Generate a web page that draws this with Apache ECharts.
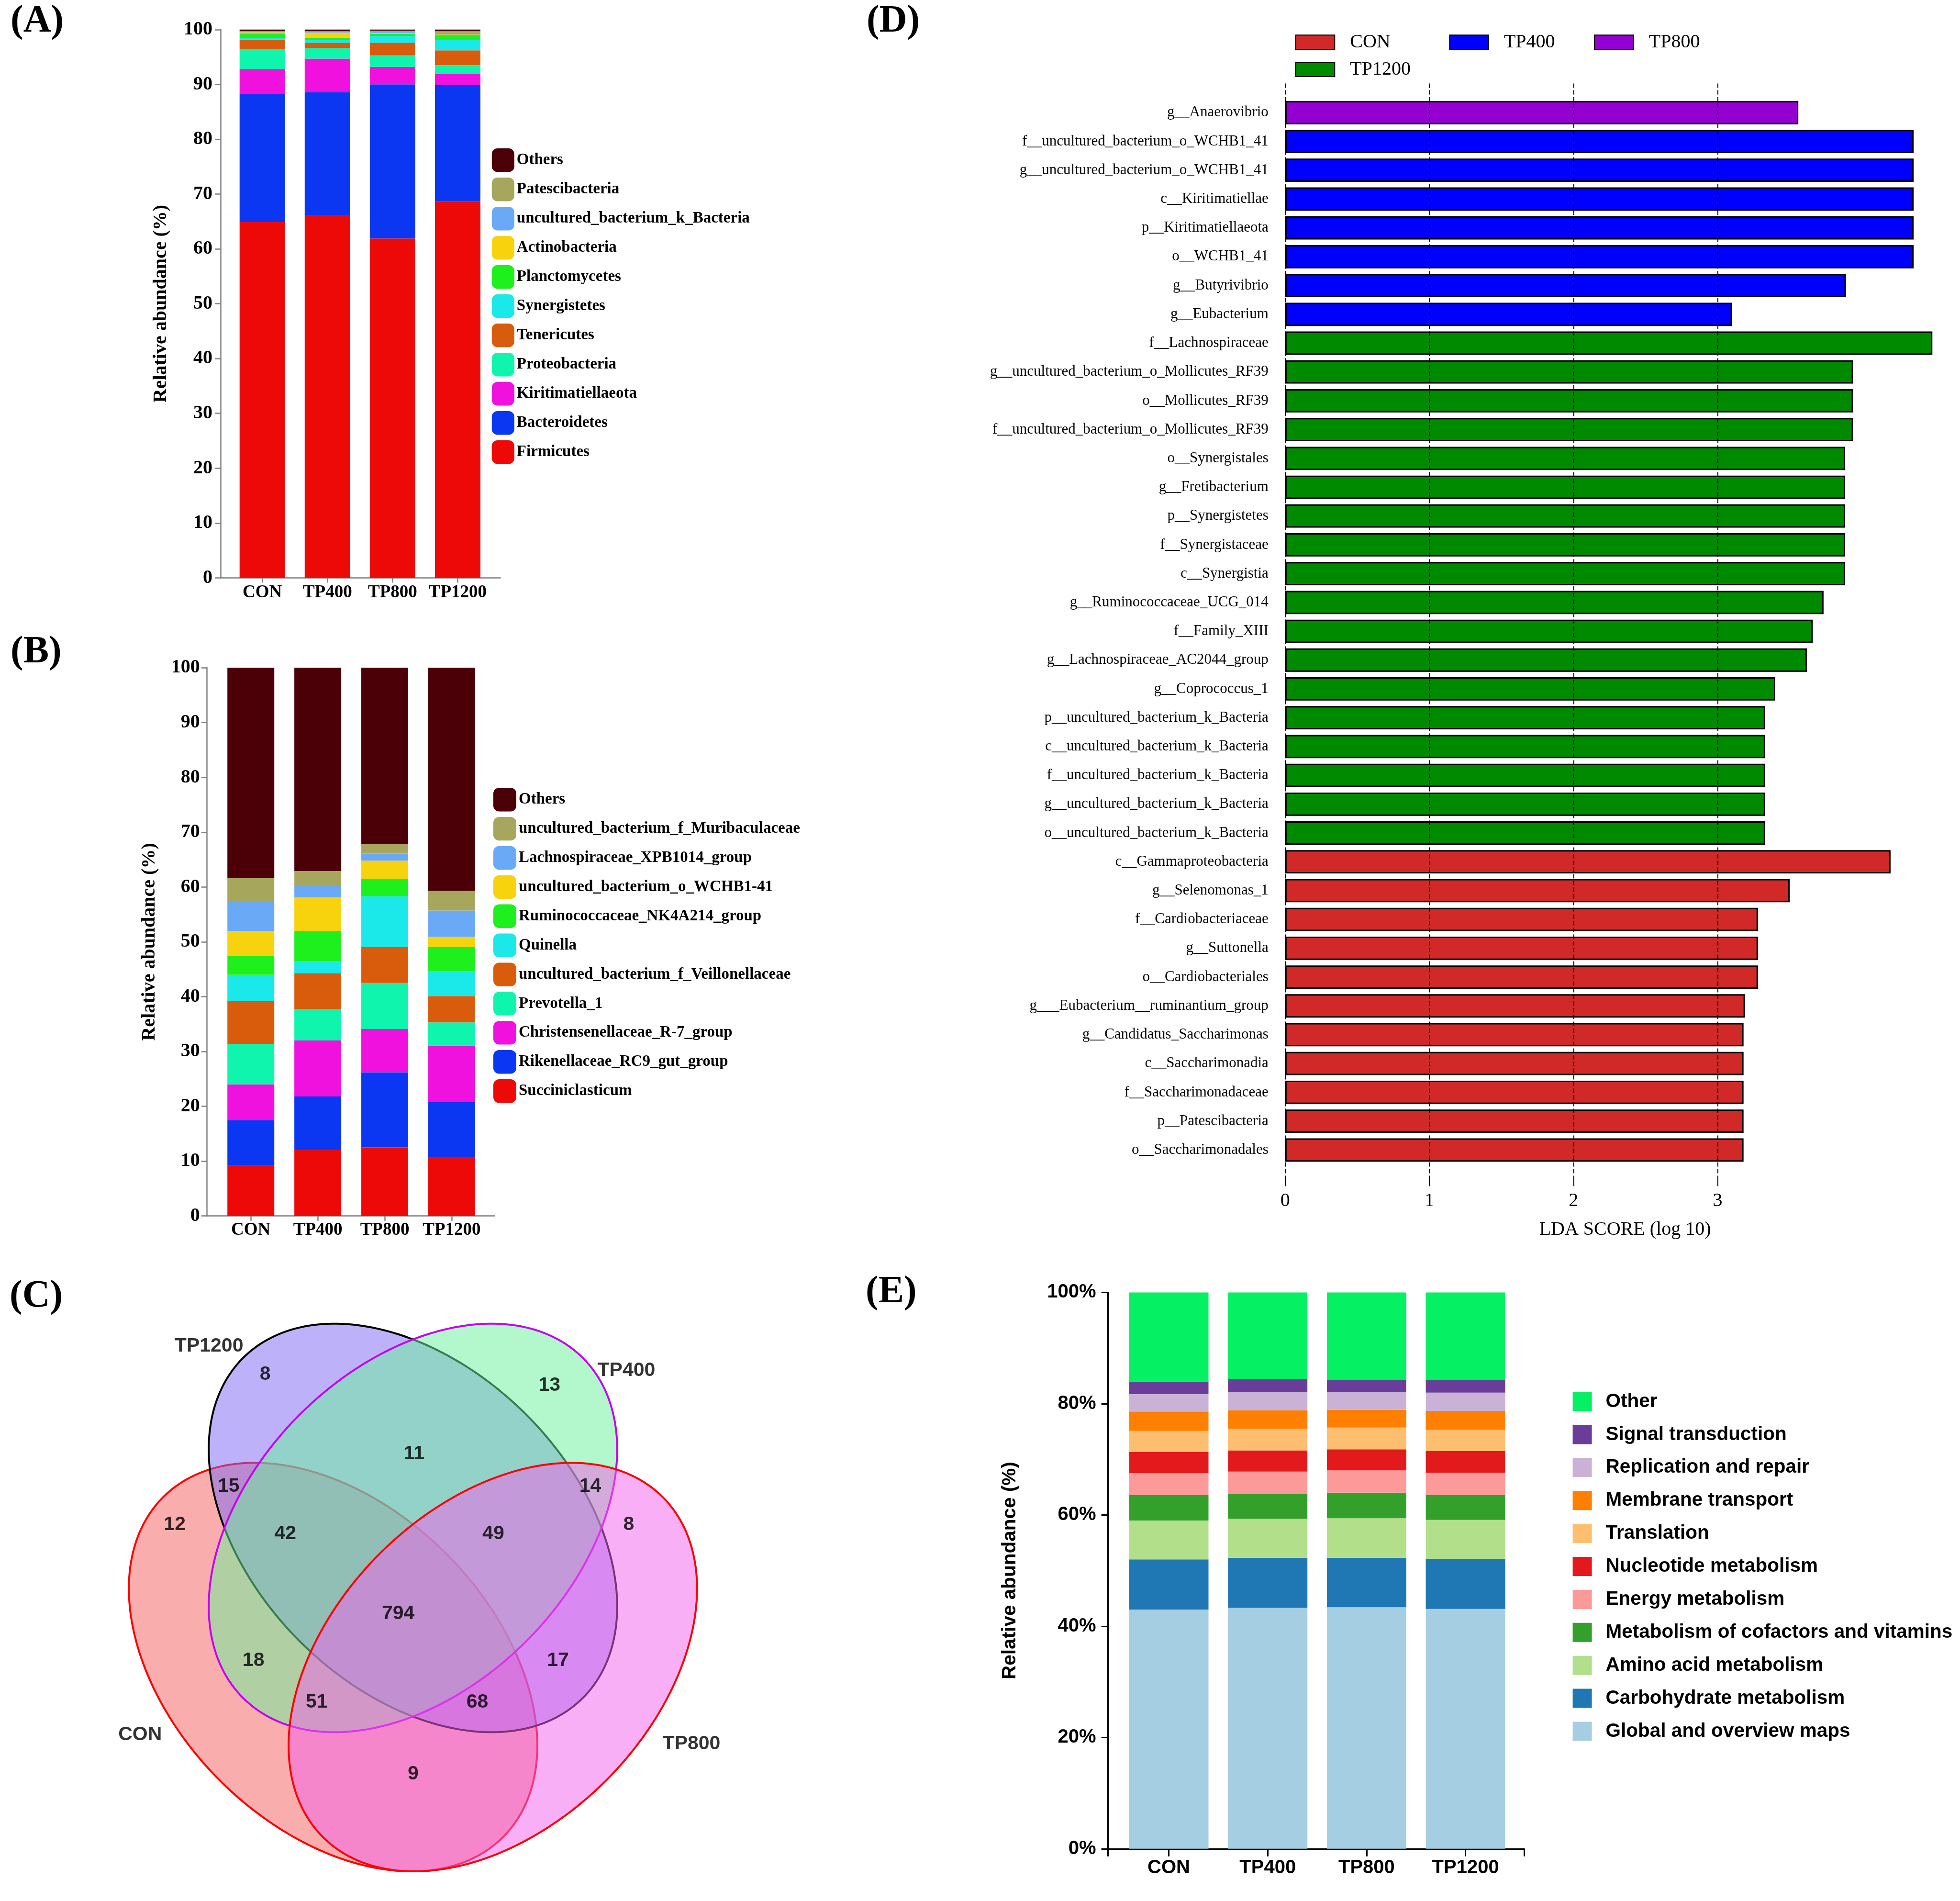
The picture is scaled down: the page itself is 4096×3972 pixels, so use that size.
<!DOCTYPE html>
<html><head><meta charset="utf-8">
<script src="https://cdn.jsdelivr.net/npm/echarts@6/dist/echarts.min.js"></script>
<style>html,body{margin:0;padding:0;background:#fff}#c{width:4096px;height:3972px}</style>
</head><body><div id="c"></div>
<script>
// ---------- shared ----------
const groups = ['CON', 'TP400', 'TP800', 'TP1200'];
const groupPos = [0, 1, 2, 3];

// ---------- Panel A : phylum level ----------
const phylumNames = ['Firmicutes','Bacteroidetes','Kiritimatiellaeota','Proteobacteria','Tenericutes','Synergistetes','Planctomycetes','Actinobacteria','uncultured_bacterium_k_Bacteria','Patescibacteria','Others'];
const phylumValues = [
  [64.9, 66.2, 61.9, 68.6],
  [23.3, 22.4, 28.1, 21.3],
  [4.6, 6.1, 3.2, 2.0],
  [3.6, 1.9, 2.1, 1.6],
  [1.8, 1.0, 2.3, 2.7],
  [0.3, 0.5, 1.2, 1.9],
  [0.8, 0.4, 0.4, 0.9],
  [0.2, 0.9, 0.2, 0.1],
  [0.1, 0.1, 0.2, 0.3],
  [0.1, 0.2, 0.2, 0.3],
  [0.3, 0.3, 0.2, 0.3]
];

// ---------- Panel B : genus level ----------
const genusNames = ['Succiniclasticum','Rikenellaceae_RC9_gut_group','Christensenellaceae_R-7_group','Prevotella_1','uncultured_bacterium_f_Veillonellaceae','Quinella','Ruminococcaceae_NK4A214_group','uncultured_bacterium_o_WCHB1-41','Lachnospiraceae_XPB1014_group','uncultured_bacterium_f_Muribaculaceae','Others'];
const genusValues = [
  [9.3, 12.1, 12.5, 10.7],
  [8.2, 9.7, 13.7, 10.1],
  [6.5, 10.2, 7.9, 10.3],
  [7.4, 5.7, 8.4, 4.2],
  [7.8, 6.6, 6.6, 4.8],
  [4.8, 2.2, 9.2, 4.5],
  [3.4, 5.5, 3.2, 4.5],
  [4.6, 6.1, 3.3, 1.8],
  [5.5, 2.2, 1.3, 4.8],
  [4.1, 2.6, 1.7, 3.6],
  [38.4, 37.1, 32.2, 40.7]
];
const taxaColors = ['#EE0909','#0B36F2','#F011DE','#10F5AE','#D95B0C','#1BE8E8','#1EF01E','#F7D30E','#6AA9F6','#A6A65C','#4A0006'];

// ---------- Panel C : Venn ----------
const vennSets = ['CON', 'TP1200', 'TP400', 'TP800'];        // drawing order
const vennCx = [711, 881.5, 881.5, 1052];
const vennCy = [3558, 3261, 3261, 3558];
const vennAngle = [45, 45, -45, -45];
const vennA = 513, vennB = 342;
const vennCounts = [8, 13, 11, 15, 14, 12, 8, 42, 49, 794, 18, 17, 51, 68, 9];
const vennCountX = [566, 1173, 884, 488, 1260, 373, 1342, 609, 1053, 850, 541, 1191, 676, 1019, 882];
const vennCountY = [2933, 2957, 3103, 3172, 3172, 3254, 3254, 3273, 3273, 3444, 3544, 3544, 3633, 3633, 3786];
const vennLabelNames = ['TP1200', 'TP400', 'CON', 'TP800'];
const vennLabelX = [446, 1337, 299, 1476];
const vennLabelY = [2873, 2925, 3702, 3722];

// ---------- Panel D : LEfSe ----------
const ldaNames = [
  'g__Anaerovibrio','f__uncultured_bacterium_o_WCHB1_41','g__uncultured_bacterium_o_WCHB1_41','c__Kiritimatiellae','p__Kiritimatiellaeota','o__WCHB1_41','g__Butyrivibrio','g__Eubacterium',
  'f__Lachnospiraceae','g__uncultured_bacterium_o_Mollicutes_RF39','o__Mollicutes_RF39','f__uncultured_bacterium_o_Mollicutes_RF39','o__Synergistales','g__Fretibacterium','p__Synergistetes','f__Synergistaceae','c__Synergistia','g__Ruminococcaceae_UCG_014','f__Family_XIII','g__Lachnospiraceae_AC2044_group','g__Coprococcus_1','p__uncultured_bacterium_k_Bacteria','c__uncultured_bacterium_k_Bacteria','f__uncultured_bacterium_k_Bacteria','g__uncultured_bacterium_k_Bacteria','o__uncultured_bacterium_k_Bacteria',
  'c__Gammaproteobacteria','g__Selenomonas_1','f__Cardiobacteriaceae','g__Suttonella','o__Cardiobacteriales','g___Eubacterium__ruminantium_group','g__Candidatus_Saccharimonas','c__Saccharimonadia','f__Saccharimonadaceae','p__Patescibacteria','o__Saccharimonadales'
];
const ldaScores = [
  3.56, 4.36, 4.36, 4.36, 4.36, 4.36, 3.89, 3.10,
  4.49, 3.94, 3.94, 3.94, 3.885, 3.885, 3.885, 3.885, 3.885, 3.735, 3.66, 3.62, 3.40, 3.33, 3.33, 3.33, 3.33, 3.33,
  4.20, 3.50, 3.28, 3.28, 3.28, 3.19, 3.18, 3.18, 3.18, 3.18, 3.18
];
const ldaClass = [
  'TP800','TP400','TP400','TP400','TP400','TP400','TP400','TP400',
  'TP1200','TP1200','TP1200','TP1200','TP1200','TP1200','TP1200','TP1200','TP1200','TP1200','TP1200','TP1200','TP1200','TP1200','TP1200','TP1200','TP1200','TP1200',
  'CON','CON','CON','CON','CON','CON','CON','CON','CON','CON','CON'
];
const ldaTicks = [0, 1, 2, 3];
const ldaColors = {CON: '#D12828', TP400: '#0000FF', TP800: '#9500D2', TP1200: '#008A00'};

// ---------- Panel E : KEGG functions ----------
const keggNames = ['Global and overview maps','Carbohydrate metabolism','Amino acid metabolism','Metabolism of cofactors and vitamins','Energy metabolism','Nucleotide metabolism','Translation','Membrane transport','Replication and repair','Signal transduction','Other'];
const keggValues = [
  [43.0, 43.3, 43.4, 43.1],
  [9.0, 9.0, 8.9, 9.0],
  [7.0, 7.0, 7.1, 7.0],
  [4.6, 4.5, 4.6, 4.5],
  [3.9, 4.0, 4.0, 4.0],
  [3.8, 3.8, 3.8, 3.9],
  [3.8, 3.9, 3.9, 3.8],
  [3.5, 3.3, 3.2, 3.4],
  [3.1, 3.3, 3.2, 3.3],
  [2.3, 2.3, 2.1, 2.2],
  [16.0, 15.6, 15.8, 15.8]
];
const keggColors = ['#A6CEE3','#1F78B4','#B2DF8A','#33A02C','#FB9A99','#E31A1C','#FDBF6F','#FF7F00','#CAB2D6','#6A3D9A','#05F063'];

// ---------- styling ----------
const SERIF = '"Liberation Serif", "Times New Roman", serif';
const SANS = '"Liberation Sans", Arial, sans-serif';
const GRAY = '#808080';

const chart = echarts.init(document.getElementById('c'), null, {renderer: 'canvas', width: 4096, height: 3972});
const groupLabel = v => (Number.isInteger(v) && groups[v] !== undefined) ? groups[v] : '';

// group axis: value scale with the four groups at 0..3, with a little room either side
function groupAxis(gridIdx, min, max, color, lw, tickLen, font, margin, endTicks) {
  return {type: 'value', gridIndex: gridIdx, min: min, max: max,
    splitLine: {show: false},
    axisLine: {onZero: false, lineStyle: {color: color, width: lw}},
    axisTick: {show: true, length: tickLen, lineStyle: {color: color, width: lw},
               customValues: endTicks ? [min].concat(groupPos, [max]) : groupPos},
    axisLabel: {customValues: groupPos, formatter: groupLabel, fontFamily: font, fontWeight: 'bold',
                fontSize: font === SERIF ? 37 : 40, color: '#000', margin: margin,
                showMinLabel: true, showMaxLabel: true}};
}
function abundanceAxis(gridIdx, nameGap, margin) {
  return {type: 'value', gridIndex: gridIdx, min: 0, max: 100, interval: 10,
    axisLine: {show: true, onZero: false, lineStyle: {color: GRAY, width: 2.5}},
    axisTick: {show: true, length: 12, lineStyle: {color: GRAY, width: 2.5}},
    splitLine: {show: false},
    axisLabel: {fontFamily: SERIF, fontWeight: 'bold', fontSize: 40, color: '#000', margin: margin},
    name: 'Relative abundance (%)', nameLocation: 'middle', nameGap: nameGap,
    nameTextStyle: {fontFamily: SERIF, fontWeight: 'bold', fontSize: 40, color: '#000'}};
}
// stacked bar series on a value x-axis: column 0 = abundance (stacked), column 1 = group position
function stackBar(name, xi, stack, width, values, color) {
  return {type: 'bar', name: name, xAxisIndex: xi, yAxisIndex: xi, stack: stack, barWidth: width,
    dimensions: ['abundance', 'group'], encode: {x: 1, y: 0},
    data: values.map((v, j) => [v, groupPos[j]]), itemStyle: {color: color}};
}

const series = [];
phylumNames.forEach((n, i) => series.push(stackBar(n, 0, 'A', 95, phylumValues[i], taxaColors[i])));
genusNames.forEach((n, i) => series.push(stackBar(n, 1, 'B', 98, genusValues[i], taxaColors[i])));

// Venn ellipses (each filled twice: a multiply wash and a normal wash, then the outline)
const vennBase = [[245, 97, 97], [127, 105, 245], [107, 241, 157], [243, 101, 235]];
const vennStroke = ['#FF0000', '#000000', '#C800F0', '#FF0000'];
series.push({
  type: 'custom', name: 'venn', xAxisIndex: 2, yAxisIndex: 2, silent: true, z: 1,
  data: vennSets.map((s, i) => [vennCx[i], vennCy[i], vennA, vennB, vennAngle[i]]),
  renderItem: (params, api) => {
    const i = params.dataIndex;
    const cx = api.value(0), cy = api.value(1), a = api.value(2), b = api.value(3);
    const th = api.value(4) * Math.PI / 180;
    const pts = [];
    for (let k = 0; k < 240; k++) {
      const t = k / 240 * 2 * Math.PI;
      const x = cx + a * Math.cos(t) * Math.cos(th) - b * Math.sin(t) * Math.sin(th);
      const y = cy + a * Math.cos(t) * Math.sin(th) + b * Math.sin(t) * Math.cos(th);
      pts.push(api.coord([x, y]));
    }
    const c = vennBase[i];
    const rgba = 'rgba(' + c[0] + ',' + c[1] + ',' + c[2] + ',0.3)';
    return {type: 'group', children: [
      {type: 'polygon', shape: {points: pts}, style: {fill: rgba, blend: 'multiply'}},
      {type: 'polygon', shape: {points: pts}, style: {fill: rgba, stroke: vennStroke[i], lineWidth: 4}}
    ]};
  }
});
series.push({
  type: 'scatter', name: 'vennCounts', xAxisIndex: 2, yAxisIndex: 2, symbolSize: 0, silent: true, z: 5,
  data: vennCounts.map((c, i) => [vennCountX[i], vennCountY[i], c]),
  label: {show: true, position: 'inside', formatter: p => String(p.value[2]), fontFamily: SANS, fontWeight: 'bold', fontSize: 41, color: '#000'}
});
series.push({
  type: 'scatter', name: 'vennNames', xAxisIndex: 2, yAxisIndex: 2, symbolSize: 0, silent: true, z: 5,
  data: vennLabelNames.map((n, i) => ({value: [vennLabelX[i], vennLabelY[i]], name: n})),
  label: {show: true, position: 'inside', formatter: p => p.name, fontFamily: SANS, fontWeight: 'bold', fontSize: 41, color: '#000'}
});

// LEfSe bars
groups.forEach(g => series.push({
  type: 'bar', name: g, xAxisIndex: 3, yAxisIndex: 3, stack: 'D', barCategoryGap: '19%',
  data: ldaScores.map((v, i) => ldaClass[i] === g ? v : '-'),
  itemStyle: {color: ldaColors[g], borderColor: '#000', borderWidth: 3}
}));
series.push({type: 'line', name: 'ldaGridAnchor', xAxisIndex: 4, yAxisIndex: 4, data: [], silent: true});

// KEGG bars
keggNames.forEach((n, i) => series.push(stackBar(n, 5, 'E', 166, keggValues[i], keggColors[i])));

const option = {
  backgroundColor: '#ffffff',
  animation: false,
  grid: [
    {left: 461.1, top: 61.8, width: 584.5, height: 1145.6},
    {left: 432.7, top: 1395.1, width: 601.1, height: 1145.6},
    {left: 0, top: 2643.3, width: 1566.4, height: 1325.6},
    {left: 2685.8, top: 205.2, width: 1385.6, height: 2227.7},
    {left: 2685.8, top: 174.5, width: 903.7, height: 2303.8},
    {left: 2315.6, top: 2700.4, width: 870, height: 1162.4}
  ],
  xAxis: [
    groupAxis(0, -0.640, 3.655, GRAY, 2.5, 10, SERIF, 13, false),
    groupAxis(1, -0.654, 3.642, GRAY, 2.5, 10, SERIF, 11.5, false),
    {type: 'value', gridIndex: 2, min: 0, max: 1600, show: false},
    {type: 'value', gridIndex: 3, min: 0, max: 4.6,
     axisLine: {show: false}, axisTick: {show: false}, axisLabel: {show: false}, splitLine: {show: false},
     name: 'LDA SCORE (log 10)', nameLocation: 'middle', nameGap: 117,
     nameTextStyle: {fontFamily: SERIF, fontSize: 40, color: '#000', padding: [0, 0, 0, 35]}},
    {type: 'value', gridIndex: 4, min: ldaTicks[0], max: ldaTicks[ldaTicks.length - 1], interval: 1, z: 10,
     axisLine: {show: false},
     axisTick: {show: true, inside: true, length: 17, lineStyle: {color: '#000', width: 2}},
     axisLabel: {fontFamily: SERIF, fontSize: 40, color: '#000', margin: 11},
     splitLine: {show: true, lineStyle: {color: '#000', width: 2, type: [9, 5]}}},
    groupAxis(5, -0.614, 3.595, '#000', 3, 16, SANS, 20.5, true)
  ],
  yAxis: [
    abundanceAxis(0, 104, 17),
    abundanceAxis(1, 100, 15),
    {type: 'value', gridIndex: 2, min: 2700, max: 4054, inverse: true, show: false},
    {type: 'category', gridIndex: 3, data: ldaNames, inverse: true,
     axisLine: {show: false}, axisTick: {show: false},
     axisLabel: {interval: 0, fontFamily: SERIF, fontSize: 31, color: '#000', margin: 35, padding: [14, 0, 0, 0]}},
    {type: 'value', gridIndex: 4, min: 0, max: 1, show: false},
    {type: 'value', gridIndex: 5, min: 0, max: 100, interval: 20,
     axisLine: {show: true, onZero: false, lineStyle: {color: '#000', width: 3}},
     axisTick: {show: true, length: 14, lineStyle: {color: '#000', width: 3}},
     splitLine: {show: false},
     axisLabel: {formatter: '{value}%', fontFamily: SANS, fontWeight: 'bold', fontSize: 40, color: '#000', margin: 25},
     name: 'Relative abundance (%)', nameLocation: 'middle', nameGap: 184.6,
     nameTextStyle: {fontFamily: SANS, fontWeight: 'bold', fontSize: 40.5, color: '#000'}}
  ],
  legend: [
    {orient: 'vertical', left: 1022.8, top: 305, itemWidth: 47, itemHeight: 49.4, itemGap: 11.6, icon: 'roundRect',
     selectedMode: false, data: phylumNames.slice().reverse(),
     textStyle: {fontFamily: SERIF, fontWeight: 'bold', fontSize: 33, color: '#000'}},
    {orient: 'vertical', left: 1026, top: 1641, itemWidth: 48, itemHeight: 49.4, itemGap: 11.5, icon: 'roundRect',
     selectedMode: false, data: genusNames.slice().reverse(),
     textStyle: {fontFamily: SERIF, fontWeight: 'bold', fontSize: 33, color: '#000'}},
    ...[[2701.8, 63.3], [3023.4, 63.3], [3326.2, 63.3], [2701.8, 120.1]].map((p, i) => ({
      left: p[0], top: p[1], itemWidth: 81.5, itemHeight: 30, icon: 'rect', selectedMode: false,
      data: [groups[i]],
      textStyle: {fontFamily: SERIF, fontSize: 40, color: '#000', padding: [0, 0, 0, 27]}
    })),
    {orient: 'vertical', left: 3281.6, top: 2903, itemWidth: 40, itemHeight: 40, itemGap: 27.9, icon: 'rect',
     selectedMode: false, data: keggNames.slice().reverse(),
     textStyle: {fontFamily: SANS, fontWeight: 'bold', fontSize: 40.5, color: '#000', padding: [0, 0, 0, 24]}}
  ],
  graphic: [
    {type: 'text', left: 22, top: 5, style: {text: '(A)', font: 'bold 80px "Liberation Serif", serif', fill: '#000'}},
    {type: 'text', left: 22, top: 1323, style: {text: '(B)', font: 'bold 80px "Liberation Serif", serif', fill: '#000'}},
    {type: 'text', left: 20, top: 2669, style: {text: '(C)', font: 'bold 80px "Liberation Serif", serif', fill: '#000'}},
    {type: 'text', left: 1811, top: 5, style: {text: '(D)', font: 'bold 80px "Liberation Serif", serif', fill: '#000'}},
    {type: 'text', left: 1809, top: 2660, style: {text: '(E)', font: 'bold 80px "Liberation Serif", serif', fill: '#000'}}
  ],
  series: series
};
chart.setOption(option);
</script>
</body></html>
